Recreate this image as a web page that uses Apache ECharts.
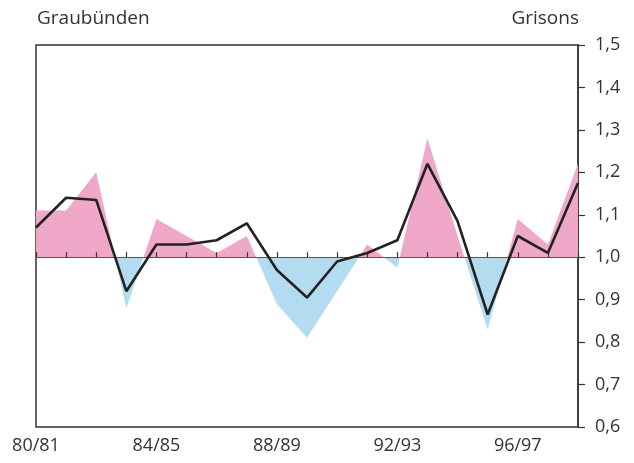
<!DOCTYPE html>
<html>
<head>
<meta charset="utf-8">
<script src="https://cdn.jsdelivr.net/npm/echarts@6/dist/echarts.min.js"></script>
<style>
html,body{margin:0;padding:0;background:#fff;}
#c{width:634px;height:463px;}
</style>
</head>
<body>
<div id="c"></div>
<script>
const categories = ['80/81','81/82','82/83','83/84','84/85','85/86','86/87','87/88','88/89','89/90',
  '90/91','91/92','92/93','93/94','94/95','95/96','96/97','97/98','98/99'];
const areaValues = [1.11,1.11,1.20,0.88,1.09,1.05,1.01,1.05,0.89,0.81,
  0.92,1.03,0.975,1.28,1.05,0.83,1.09,1.03,1.22];
const lineValues = [1.07,1.14,1.135,0.92,1.03,1.03,1.04,1.08,0.97,0.905,
  0.99,1.01,1.04,1.22,1.085,0.865,1.05,1.01,1.175];
const yTicks = [0.6,0.7,0.8,0.9,1.0,1.1,1.2,1.3,1.4,1.5];
const titleLeft = 'Graubünden';
const titleRight = 'Grisons';

const FONT = '"Open Sans", "Noto Sans", sans-serif';
const gridTop = 45, gridBottom = 36, H = 463;
const plotH = H - gridTop - gridBottom;
const baseOffset = -plotH * (1.0 - yTicks[0]) / (yTicks[yTicks.length-1] - yTicks[0]);

const chart = echarts.init(document.getElementById('c'), null, {renderer:'canvas'});
chart.setOption({
  backgroundColor: '#fff',
  animation: false,
  title: [
    {text: titleLeft, left: 32, top: 4, textStyle: {fontFamily: FONT, fontSize: 19, fontWeight: 'normal', color: '#333'}},
    {text: titleRight, right: 50, top: 4, textStyle: {fontFamily: FONT, fontSize: 19, fontWeight: 'normal', color: '#333'}}
  ],
  grid: {left: 36, right: 56, top: gridTop, bottom: gridBottom, show: true, borderColor: '#333', borderWidth: 1.5, backgroundColor: 'transparent'},
  visualMap: {
    type: 'piecewise', show: false, seriesIndex: 0, dimension: 1,
    pieces: [{gt: 1, lte: 3, color: '#efa8c8'}, {gte: -1, lte: 1, color: '#b3dcf0'}]
  },
  xAxis: [
    {type: 'category', data: categories, boundaryGap: false, position: 'bottom',
     axisLine: {show: false}, axisTick: {show: false}, splitLine: {show: false},
     axisLabel: {interval: 3, margin: 10, fontFamily: FONT, fontSize: 18, color: '#333'}},
    {type: 'category', data: categories, boundaryGap: false, position: 'bottom', offset: baseOffset, z: 3,
     axisLine: {show: true, lineStyle: {color: '#555', width: 1}},
     axisTick: {show: true, inside: true, length: 5, interval: 0, lineStyle: {color: '#333', width: 1.2}},
     axisLabel: {show: false}, splitLine: {show: false}}
  ],
  yAxis: {
    type: 'value', position: 'right', min: 0.6, max: 1.5, interval: 0.1,
    axisLine: {show: true, lineStyle: {color: '#333', width: 1.5}},
    axisTick: {show: true, inside: false, length: 7, lineStyle: {color: '#333', width: 1.2}},
    splitLine: {show: false},
    axisLabel: {margin: 17, fontFamily: FONT, fontSize: 18, color: '#333',
      formatter: v => v.toFixed(1).replace('.', ',')}
  },
  series: [
    {type: 'line', xAxisIndex: 0, data: areaValues, showSymbol: false, symbol: 'none', z: 2,
     lineStyle: {width: 0, opacity: 0}, areaStyle: {origin: 1, opacity: 1}},
    {type: 'line', xAxisIndex: 0, data: lineValues, showSymbol: false, symbol: 'none', z: 5,
     lineStyle: {color: '#222', width: 2.6}, itemStyle: {color: '#222'}}
  ]
});
</script>
</body>
</html>
